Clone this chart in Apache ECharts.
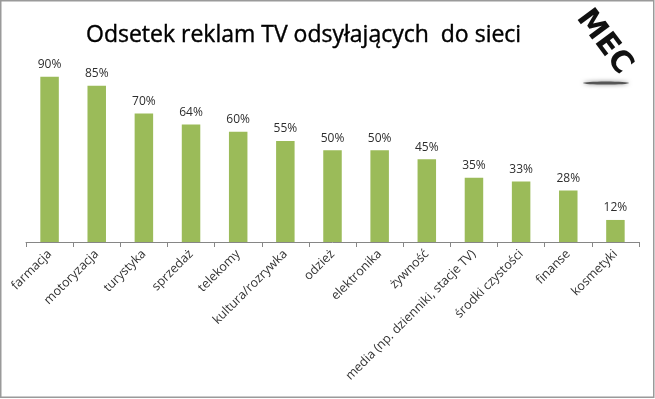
<!DOCTYPE html>
<html>
<head>
<meta charset="utf-8">
<script src="https://cdn.jsdelivr.net/npm/echarts@6/dist/echarts.min.js"></script>
<style>
html,body{margin:0;padding:0;background:#fff;}
#chart{width:655px;height:399px;}
</style>
</head>
<body>
<div id="chart"></div>
<script>
const categories = ['farmacja','motoryzacja','turystyka','sprzedaż','telekomy','kultura/rozrywka','odzież','elektronika','żywność','media (np. dzienniki, stacje TV)','środki czystości','finanse','kosmetyki'];
const values = [90, 85, 70, 64, 60, 55, 50, 50, 45, 35, 33, 28, 12];
const titleText = 'Odsetek reklam TV odsyłających  do sieci';
const logoText = 'MEC';

const chart = echarts.init(document.getElementById('chart'), null, {renderer: 'canvas'});
chart.setOption({
  backgroundColor: '#ffffff',
  animation: false,
  title: {
    text: titleText,
    left: 81,
    top: 19,
    textStyle: {fontFamily: 'Open Sans', fontSize: 23, fontWeight: 'normal', color: '#000000',
                textBorderColor: '#000000', textBorderWidth: 0.4}
  },
  grid: {left: 26, right: 16, top: 58.3, bottom: 157, containLabel: false},
  xAxis: {
    type: 'category',
    data: categories,
    axisLine: {lineStyle: {color: '#868686', width: 1}},
    axisTick: {show: true, alignWithLabel: false, length: 5, lineStyle: {color: '#868686'}},
    axisLabel: {
      rotate: 45, interval: 0, margin: 10, padding: [11, 0, 0, 0],
      fontFamily: 'Open Sans', fontSize: 12.5, color: '#333333'
    }
  },
  yAxis: {
    type: 'value', min: 0, max: 100, show: false,
    splitLine: {show: false}
  },
  series: [{
    type: 'bar',
    data: values,
    barWidth: 18.5,
    itemStyle: {color: '#9bbb59'},
    label: {
      show: true, position: 'top', distance: 6,
      formatter: p => p.value + '%',
      fontFamily: 'Open Sans', fontSize: 12, color: '#2e2e2e'
    }
  }],
  graphic: [
    {
      type: 'rect', silent: true,
      shape: {x: 0.75, y: 0.75, width: 653, height: 396.5},
      style: {fill: 'none', stroke: '#9a9a9a', lineWidth: 1.5}
    },
    {
      type: 'ellipse', silent: true,
      shape: {cx: 606, cy: 83, rx: 23, ry: 1.6},
      style: {fill: '#555', shadowBlur: 4, shadowColor: 'rgba(0,0,0,0.5)'}
    },
    {
      type: 'text', silent: true,
      x: 604, y: 42, rotation: -0.93,
      style: {
        text: logoText, fontFamily: 'DejaVu Sans', fontWeight: 900, fontSize: 30,
        fill: '#111', align: 'center', verticalAlign: 'middle'
      }
    }
  ]
});
</script>
</body>
</html>
